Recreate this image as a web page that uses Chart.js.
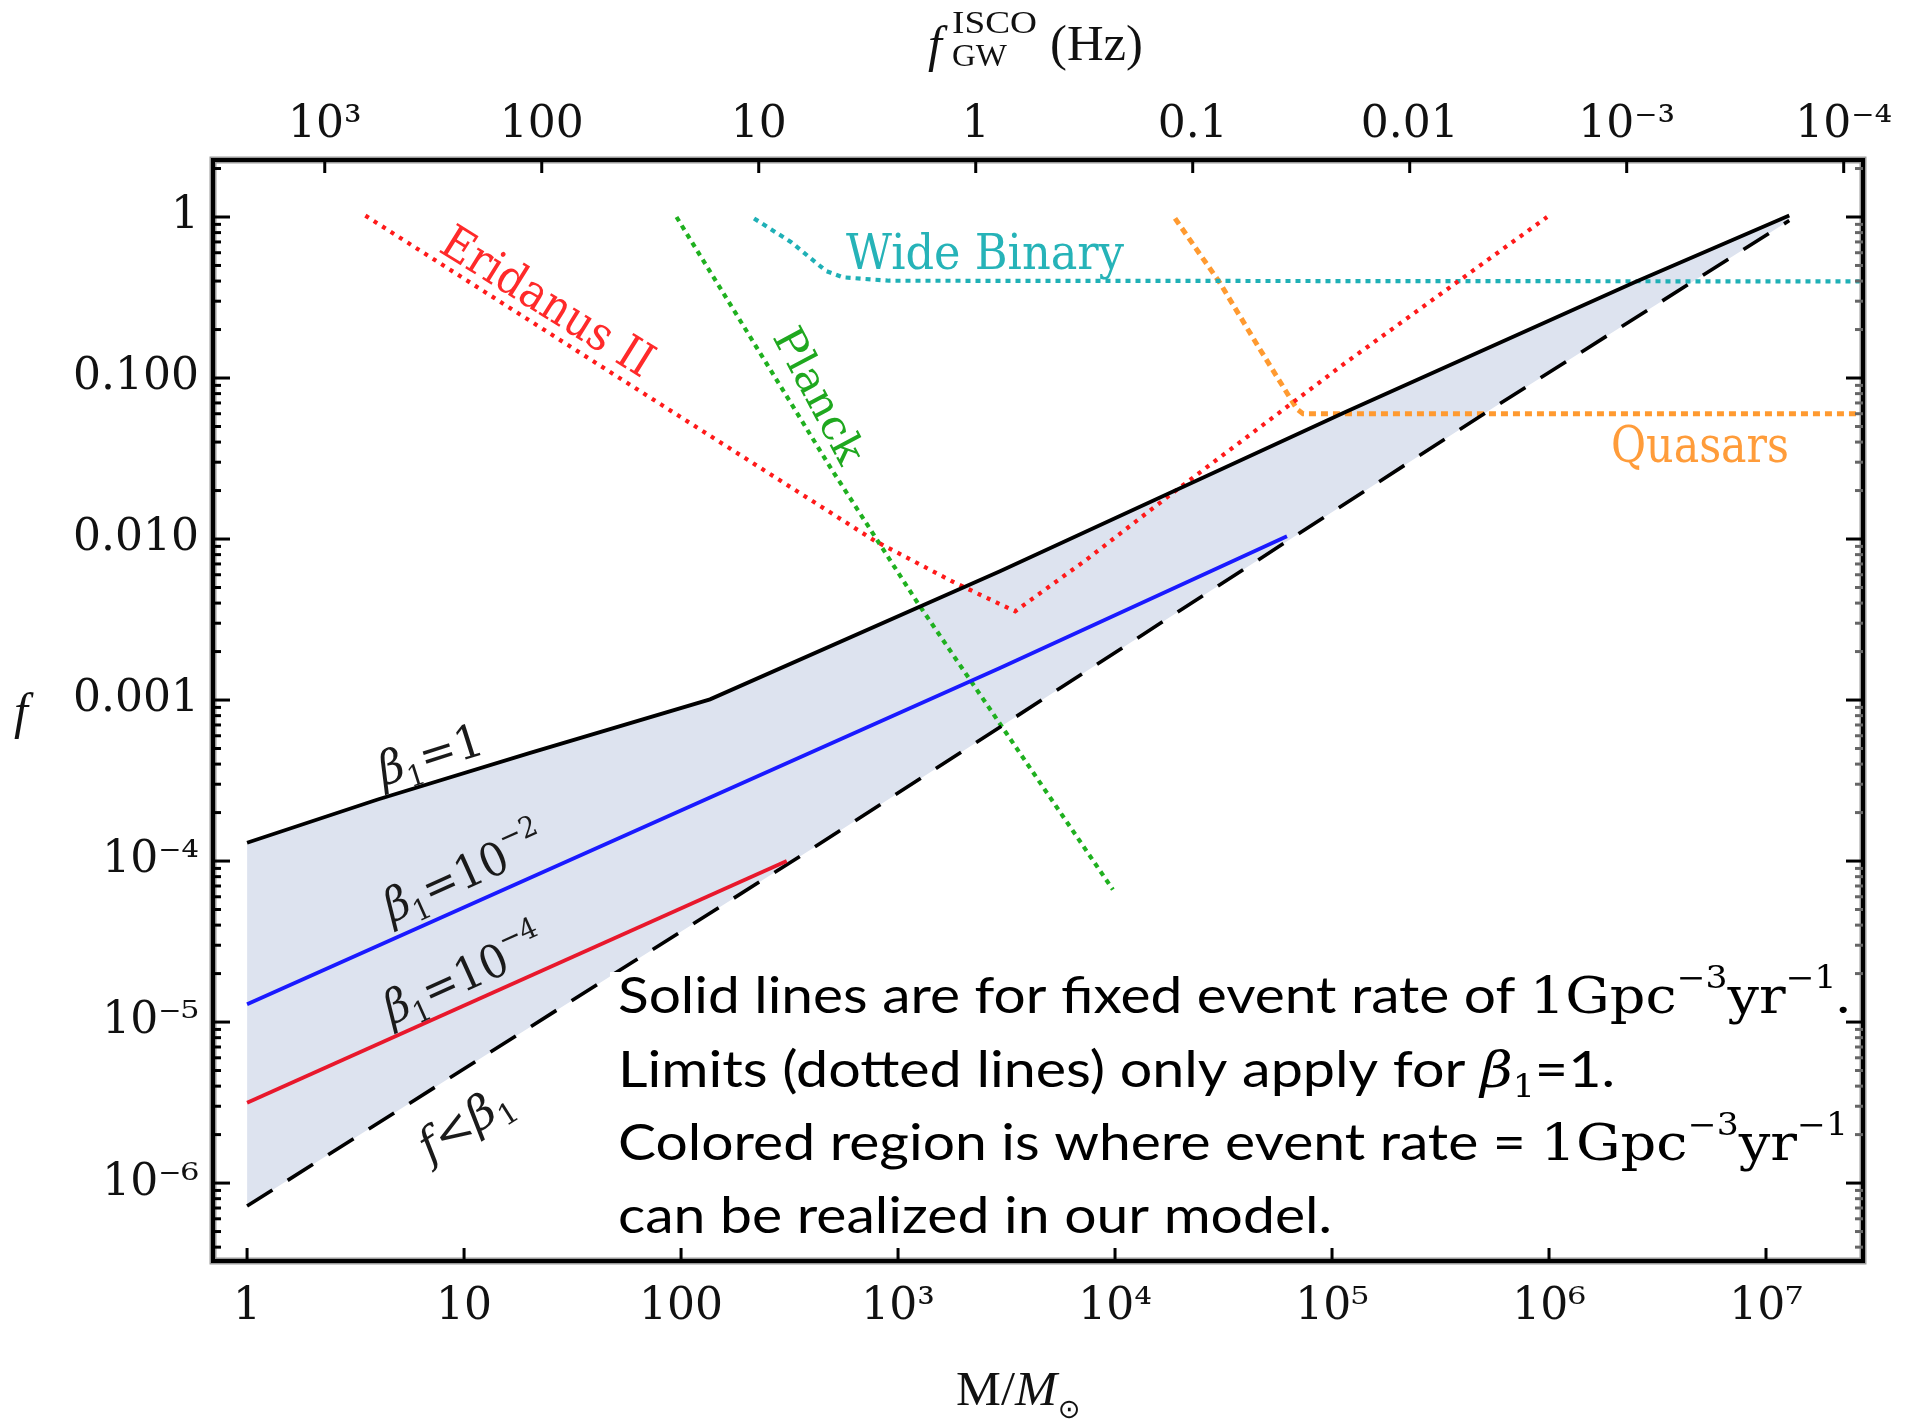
<!DOCTYPE html>
<html><head><meta charset="utf-8">
<script src="https://cdn.jsdelivr.net/npm/chart.js@4.4.0/dist/chart.umd.min.js"></script>
<style>html,body{margin:0;padding:0;background:#fff;}canvas{display:block}</style>
</head><body>
<canvas id="c" width="1905" height="1422" style="width:1905px;height:1422px"></canvas>
<script>
// ---------------- data ----------------
// beta1 = 1 (solid black)
const beta1M = [1, 4, 20, 136, 2950, 1.16e5, 2.48e6, 1.28e7];
const beta1F = [1.30e-4, 2.41e-4, 4.68e-4, 1.01e-3, 6.3e-3, 0.0617, 0.393, 1.02];
// beta1 = 1e-2 (solid blue)
const beta2M = [1, 2950, 6.2e4];
const beta2F = [1.29e-5, 1.58e-3, 0.0104];
// beta1 = 1e-4 (solid red)
const beta4M = [1, 307];
const beta4F = [3.15e-6, 1.0e-4];
// f < beta1 (dashed black)
const boundM = [1, 400, 5.7e5, 1.28e7];
const boundF = [7.2e-7, 1.19e-4, 0.067, 0.95];
// Eridanus II (red dotted)
const eriM = [3.51, 100, 781, 1828, 3467, 7400, 1.85e4, 1.16e5, 9.8e5];
const eriF = [1.02, 0.057, 9.75e-3, 5.35e-3, 3.56e-3, 7.46e-3, 0.0194, 0.125, 1.0];
// Planck (green dotted)
const planckM = [95.3, 494, 1230, 9770];
const planckF = [1.0, 0.0271, 4.02e-3, 6.65e-5];
// Wide Binary (cyan dotted)
const wideM = [217, 322, 465, 558, 908, 3e7];
const wideF = [0.98, 0.697, 0.463, 0.422, 0.402, 0.398];
// Quasars (orange dotted)
const quasM = [1.89e4, 3.03e4, 4.65e4, 6.9e4, 7.35e4, 3e7];
const quasF = [0.98, 0.393, 0.151, 0.064, 0.060, 0.060];

// ---------------- axes ----------------
const xTickValues = [1, 10, 100, 1e3, 1e4, 1e5, 1e6, 1e7];
const xTickLabels = ['1', '10', '100', '10\u00B3', '10\u2074', '10\u2075', '10\u2076', '10\u2077'];
const yTickValues = [1, 0.1, 0.01, 0.001, 1e-4, 1e-5, 1e-6];
const yTickLabels = ['1', '0.100', '0.010', '0.001', '10\u207B\u2074', '10\u207B\u2075', '10\u207B\u2076'];
const topTickValues = [1e3, 100, 10, 1, 0.1, 0.01, 1e-3, 1e-4];
const topTickLabels = ['10\u00B3', '100', '10', '1', '0.1', '0.01', '10\u207B\u00B3', '10\u207B\u2074'];
const minorMultipliers = [2, 3, 4, 5, 6, 7, 8, 9];

const X_MIN = Math.pow(10, -0.157), X_MAX = Math.pow(10, 7.447);
const Y_MIN = Math.pow(10, -6.484), Y_MAX = Math.pow(10, 0.354);
const F_ISCO_AT_1 = Math.pow(10, 3.358); // f_GW (Hz) * M/Msun

const zip = (xs, ys) => xs.map((x, i) => ({x: x, y: ys[i]}));

const SERIF = '"DejaVu Serif", serif';
const TSERIF = '"Liberation Serif", "DejaVu Serif", serif';
const SANS = 'Lato, "Open Sans", sans-serif';
const FILL = '#dde3ef';

function runsWidth(ctx, runs) {
  return runs.map(r => { ctx.font = r.f; return ctx.measureText(r.t).width; });
}
// draw a list of text runs; o: {x, y, angle, width, center, dy, color}
function drawRuns(ctx, runs, o) {
  ctx.save();
  ctx.translate(o.x, o.y);
  if (o.angle) ctx.rotate(o.angle * Math.PI / 180);
  const ws = runsWidth(ctx, runs);
  const total = ws.reduce((a, b) => a + b, 0);
  const sx = o.width ? o.width / total : 1;
  ctx.scale(sx, 1);
  let x = o.center ? -total / 2 : 0;
  const base = o.dy || 0;
  ctx.textBaseline = 'alphabetic';
  ctx.textAlign = 'left';
  runs.forEach((r, i) => {
    ctx.font = r.f;
    ctx.fillStyle = r.c || o.color || '#000';
    ctx.fillText(r.t, x, base + (r.d || 0));
    x += ws[i];
  });
  ctx.restore();
}

const overlay = {
  id: 'overlay',
  afterDatasetsDraw(chart) {
    const ctx = chart.ctx;
    // white note box
    ctx.save();
    ctx.fillStyle = '#fff';
    ctx.fillRect(610, 972, 1246, 278);
    ctx.restore();

    const sans = '51px ' + SANS, ser = '50px ' + SERIF, sup = '31px ' + SERIF;
    drawRuns(ctx, [
      {t: 'Solid lines are for fixed event rate of ', f: sans},
      {t: '1Gpc', f: ser}, {t: '\u22123', f: sup, d: -25},
      {t: 'yr', f: ser}, {t: '\u22121', f: sup, d: -25}, {t: '.', f: sans}
    ], {x: 618, y: 1013, width: 1232});
    drawRuns(ctx, [
      {t: 'Limits (dotted lines) only apply for ', f: sans},
      {t: '\u03B2', f: 'italic 50px ' + SERIF}, {t: '1', f: sup, d: 10},
      {t: '=1.', f: sans}
    ], {x: 618, y: 1087, width: 997});
    drawRuns(ctx, [
      {t: 'Colored region is where event rate = ', f: sans},
      {t: '1Gpc', f: ser}, {t: '\u22123', f: sup, d: -25},
      {t: 'yr', f: ser}, {t: '\u22121', f: sup, d: -25}
    ], {x: 618, y: 1160, width: 1230});
    drawRuns(ctx, [{t: 'can be realized in our model.', f: sans}], {x: 618, y: 1233, width: 714});

    // curve labels
    const b = 'italic 46px ' + SERIF, n = '46px ' + SERIF, s = '29px ' + SERIF;
    drawRuns(ctx, [{t: '\u03B2', f: b}, {t: '1', f: s, d: 10}, {t: '=1', f: n}],
      {x: 431, y: 757, angle: -17.6, center: true, dy: 13, width: 108, color: '#1a1a1a'});
    drawRuns(ctx, [{t: '\u03B2', f: b}, {t: '1', f: s, d: 10}, {t: '=10', f: n}, {t: '\u22122', f: s, d: -22}],
      {x: 464, y: 874, angle: -24.2, center: true, dy: 15, width: 172, color: '#1a1a1a'});
    drawRuns(ctx, [{t: '\u03B2', f: b}, {t: '1', f: s, d: 10}, {t: '=10', f: n}, {t: '\u22124', f: s, d: -22}],
      {x: 464, y: 976, angle: -24.2, center: true, dy: 15, width: 172, color: '#1a1a1a'});
    drawRuns(ctx, [{t: 'f', f: b}, {t: '<', f: n}, {t: '\u03B2', f: b}, {t: '1', f: s, d: 10}],
      {x: 466, y: 1125, angle: -32.5, center: true, dy: 13, width: 102, color: '#1a1a1a'});

    drawRuns(ctx, [{t: 'Eridanus II', f: '47px ' + SERIF}],
      {x: 548, y: 301, angle: 32, center: true, dy: 16, width: 241, color: '#ff2a2a'});
    drawRuns(ctx, [{t: 'Planck', f: '42px ' + SERIF}],
      {x: 820, y: 395, angle: 62, center: true, dy: 15, width: 148, color: '#1fa81f'});
    drawRuns(ctx, [{t: 'Wide Binary', f: '48px ' + SERIF}],
      {x: 846, y: 269, width: 278, color: '#26b3b8'});
    drawRuns(ctx, [{t: 'Quasars', f: '50px ' + SERIF}],
      {x: 1611, y: 462, width: 178, color: '#ff9c3a'});
  },
  afterDraw(chart) {
    const ctx = chart.ctx, a = chart.chartArea, sc = chart.scales;
    ctx.save();
    // frame
    ctx.strokeStyle = '#9a9a9a'; ctx.lineWidth = 7;
    ctx.strokeRect(a.left, a.top, a.right - a.left, a.bottom - a.top);
    ctx.strokeStyle = '#000'; ctx.lineWidth = 4;
    ctx.strokeRect(a.left, a.top, a.right - a.left, a.bottom - a.top);
    const seg = (x1, y1, x2, y2) => { ctx.beginPath(); ctx.moveTo(x1, y1); ctx.lineTo(x2, y2); ctx.stroke(); };
    ctx.lineWidth = 3; ctx.strokeStyle = '#000';
    xTickValues.forEach(v => { const p = sc.x.getPixelForValue(v); seg(p, a.bottom, p, a.bottom - 13); });
    topTickValues.forEach(v => { const p = sc.x2.getPixelForValue(v); seg(p, a.top, p, a.top + 13); });
    const decades = [1e-7].concat(yTickValues.slice().reverse());
    decades.forEach(d => {
      [1].concat(minorMultipliers).forEach(k => {
        const v = d * k;
        if (v < Y_MIN || v > Y_MAX) return;
        const p = sc.y.getPixelForValue(v);
        const len = k === 1 ? 17 : 8;
        ctx.strokeStyle = '#000';
        seg(a.left, p, a.left + len, p);
        ctx.strokeStyle = k === 1 ? '#000' : '#666';
        seg(a.right, p, a.right - len, p);
      });
    });
    ctx.restore();

    // axis titles
    drawRuns(ctx, [{t: 'f', f: 'italic 50px ' + TSERIF}], {x: 14, y: 728, color: '#111'});
    drawRuns(ctx, [{t: 'f', f: 'italic 50px ' + TSERIF}], {x: 928, y: 61, color: '#111'});
    drawRuns(ctx, [{t: 'ISCO', f: '31px ' + TSERIF}], {x: 952, y: 33, width: 85, color: '#111'});
    drawRuns(ctx, [{t: 'GW', f: '31px ' + TSERIF}], {x: 952, y: 66, width: 55, color: '#111'});
    drawRuns(ctx, [{t: '(Hz)', f: '50px ' + TSERIF}], {x: 1050, y: 60, width: 93, color: '#111'});
    drawRuns(ctx, [{t: 'M/', f: '48px ' + TSERIF}, {t: 'M', f: 'italic 48px ' + TSERIF}],
      {x: 956, y: 1405, width: 101, color: '#111'});
    drawRuns(ctx, [{t: '\u2299', f: '27px "DejaVu Sans"'}], {x: 1058, y: 1418, color: '#111'});
  }
};

const tickFont = {family: SERIF, size: 44};
new Chart(document.getElementById('c'), {
  type: 'line',
  data: {
    datasets: [
      {data: zip(beta1M, beta1F), borderColor: '#000', borderWidth: 3.8, fill: 3, backgroundColor: FILL},
      {data: zip(beta2M, beta2F), borderColor: '#1a1aff', borderWidth: 3.8, fill: false},
      {data: zip(beta4M, beta4F), borderColor: '#e8182c', borderWidth: 3.8, fill: false},
      {data: zip(boundM, boundF), borderColor: '#000', borderWidth: 3.6, borderDash: [30, 18], fill: false},
      {data: zip(eriM, eriF), borderColor: '#ff1a1a', borderWidth: 4.2, borderDash: [4, 6], fill: false},
      {data: zip(planckM, planckF), borderColor: '#1fb01f', borderWidth: 4.2, borderDash: [5, 5], fill: false},
      {data: zip(wideM, wideF), borderColor: '#1fb0b6', borderWidth: 4.2, borderDash: [5, 5], fill: false},
      {data: zip(quasM, quasF), borderColor: '#ff9a30', borderWidth: 5, borderDash: [7, 5], fill: false}
    ]
  },
  options: {
    responsive: false,
    devicePixelRatio: 1,
    animation: false,
    layout: {padding: {left: 0, right: 42, top: 0, bottom: 0}},
    elements: {point: {radius: 0, hoverRadius: 0}, line: {tension: 0}},
    plugins: {
      legend: {display: false}, tooltip: {enabled: false}, title: {display: false},
      filler: {drawTime: 'beforeDatasetsDraw'}
    },
    events: [],
    scales: {
      x: {
        type: 'logarithmic', position: 'bottom', min: X_MIN, max: X_MAX,
        grid: {display: false, drawTicks: false}, border: {display: false},
        afterBuildTicks: s => { s.ticks = xTickValues.map(v => ({value: v})); },
        afterFit: s => { s.height = 161; },
        ticks: {autoSkip: false, maxRotation: 0, minRotation: 0, padding: 20, color: '#111', font: tickFont,
          callback: (v, i) => xTickLabels[i]}
      },
      x2: {
        type: 'logarithmic', axis: 'x', position: 'top', reverse: true,
        min: F_ISCO_AT_1 / X_MAX, max: F_ISCO_AT_1 / X_MIN,
        grid: {display: false, drawTicks: false}, border: {display: false},
        afterBuildTicks: s => { s.ticks = topTickValues.map(v => ({value: v})); },
        afterFit: s => { s.height = 160; },
        ticks: {autoSkip: false, maxRotation: 0, minRotation: 0, padding: 8, color: '#111', font: tickFont,
          callback: (v, i) => topTickLabels[i]}
      },
      y: {
        type: 'logarithmic', position: 'left', min: Y_MIN, max: Y_MAX,
        grid: {display: false, drawTicks: false}, border: {display: false},
        afterBuildTicks: s => { s.ticks = yTickValues.map(v => ({value: v})); },
        afterFit: s => { s.width = 213; },
        ticks: {autoSkip: false, padding: 14, color: '#111', font: tickFont,
          callback: (v, i) => yTickLabels[i]}
      }
    }
  },
  plugins: [overlay]
});
</script>
</body></html>
